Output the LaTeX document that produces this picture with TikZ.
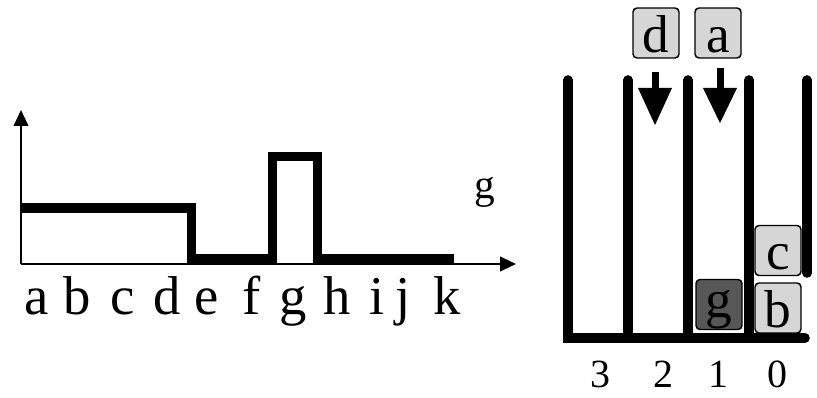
\documentclass[tikz,border=0pt]{standalone}
\usepackage{fontspec}
\setmainfont{Liberation Serif}
\usetikzlibrary{arrows.meta}
\definecolor{tilelight}{HTML}{D6D6D6}
\definecolor{tiledark}{HTML}{575757}
\begin{document}
\begin{tikzpicture}[x=0.75pt,y=-0.75pt,
  axisline/.style={line width=1.5pt,-{Triangle[width=11pt,length=12pt]}},
  thinline/.style={line width=1.1pt},
  stepline/.style={line width=6.75pt,line join=miter,line cap=butt},
  wall/.style={line width=7.2pt,line cap=round},
  shaft/.style={line width=5.25pt},
  tile/.style={draw,line width=1.1pt,rounded corners=3pt,fill=tilelight,
    minimum width=34.5pt,minimum height=37.5pt,inner sep=0pt,
    text height=31pt,text depth=2pt,font=\fontsize{40}{40}\selectfont},
  darktile/.style={tile,fill=tiledark,text height=25pt,text depth=5.5pt},
  letter/.style={anchor=base,inner sep=0pt,font=\fontsize{41}{41}\selectfont},
  digit/.style={anchor=base,inner sep=0pt,font=\fontsize{30}{30}\selectfont},
  glabel/.style={anchor=base,inner sep=0pt,font=\fontsize{31}{31}\selectfont}]
\useasboundingbox (0,0) rectangle (817,398);
% ---------- left chart ----------
\coordinate (o) at (21,264);
\coordinate (ytop) at (21,110);
\coordinate (xend) at (516,264);
\draw[thinline] (21,212.5) -- (187,212.5);
\draw[stepline] (21,207.5) -- (191.5,207.5) -- (191.5,258.5) -- (272,258.5)
  -- (272,157) -- (317.5,157) -- (317.5,258.5) -- (454,258.5);
\draw[axisline] (o) -- (ytop);
\draw[axisline] (o) -- (xend);
\foreach \l/\x in {a/37,b/77,c/123,d/167,e/207,f/252,g/293,h/337,i/377,j/403,k/447}
  \node[letter] (lab\l) at (\x,315) {\l};
\node[glabel] (gname) at (485,199) {g};
% ---------- right: buckets ----------
\coordinate (w1t) at (568,80);
\coordinate (w2t) at (628,80);
\coordinate (w3t) at (688,80);
\coordinate (w4t) at (749,80);
\coordinate (w5t) at (807,80);
\coordinate (w1b) at (568,338);
\coordinate (w2b) at (628,338);
\coordinate (w3b) at (688,338);
\coordinate (w4b) at (749,338);
\coordinate (w5b) at (807,273);
\coordinate (floorr) at (805,338);
\draw[wall] (w1t) -- (w1b) -- (floorr);
\draw[wall] (w2t) -- (w2b);
\draw[wall] (w3t) -- (w3b);
\draw[wall] (w4t) -- (w4b);
\draw[wall] (w5t) -- (w5b);
% tiles
\node[tile] (td) at (656,33) {d};
\node[tile] (ta) at (718,33) {a};
\node[tile] (tc) at (778,250.5) {c};
\node[tile] (tb) at (778,308) {b};
\node[darktile] (tg) at (719,304.5) {g};
% arrows
\coordinate (ad1) at (655,72);
\coordinate (ad2) at (655,89);
\coordinate (aa1) at (720,68);
\coordinate (aa2) at (720,89);
\draw[shaft] (ad1) -- (ad2);
\fill (638,88) -- (672,88) -- (655,125) -- cycle;
\draw[shaft] (aa1) -- (aa2);
\fill (703,88) -- (737,88) -- (720,123) -- cycle;
% digits
\node[digit] (n3) at (600,388) {3};
\node[digit] (n2) at (663,388) {2};
\node[digit] (n1) at (718,388) {1};
\node[digit] (n0) at (777,388) {0};
\end{tikzpicture}
\end{document}
